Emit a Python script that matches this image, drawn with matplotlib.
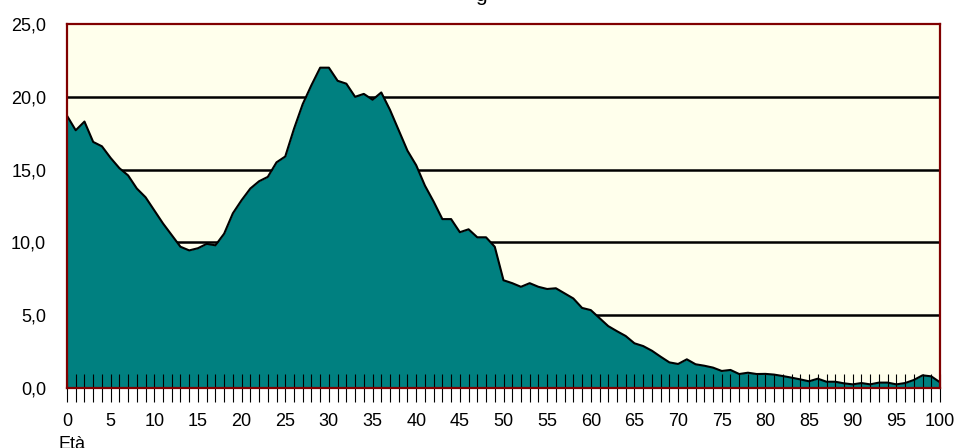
import numpy as np
import matplotlib
matplotlib.use("Agg")
import matplotlib.pyplot as plt
from matplotlib.ticker import MultipleLocator, FuncFormatter

plt.rcParams['font.family'] = ['Liberation Sans', 'DejaVu Sans']

# eta' 0..100
eta = np.arange(0, 101)
valori = [
    18.7, 17.7, 18.3, 16.9, 16.6, 15.8, 15.1, 14.6, 13.7, 13.1,   # 0-9
    12.2, 11.3, 10.5, 9.7, 9.45, 9.6, 9.9, 9.8, 10.6, 12.0,       # 10-19
    12.9, 13.7, 14.2, 14.5, 15.5, 15.9, 17.8, 19.5, 20.8, 22.0,   # 20-29
    22.0, 21.1, 20.9, 20.0, 20.2, 19.8, 20.3, 19.1, 17.7, 16.3,   # 30-39
    15.3, 13.9, 12.8, 11.6, 11.6, 10.7, 10.9, 10.35, 10.35, 9.7,  # 40-49
    7.4, 7.2, 6.95, 7.2, 6.95, 6.8, 6.85, 6.5, 6.15, 5.5,         # 50-59
    5.35, 4.8, 4.25, 3.9, 3.57, 3.07, 2.88, 2.56, 2.15, 1.76,     # 60-69
    1.65, 1.97, 1.63, 1.53, 1.4, 1.17, 1.24, 0.96, 1.05, 0.96,    # 70-79
    0.97, 0.92, 0.82, 0.71, 0.59, 0.46, 0.64, 0.43, 0.43, 0.32,   # 80-89
    0.25, 0.34, 0.25, 0.37, 0.37, 0.25, 0.34, 0.55, 0.87, 0.8,    # 90-99
    0.39,                                                          # 100
]
yticks = [0, 5, 10, 15, 20, 25]

fig = plt.figure(figsize=(9.56, 4.48), dpi=100)
ax = fig.add_axes([67 / 956, 1 - 388 / 448, 873 / 956, 364 / 448])
ax.set_facecolor('#FFFFEC')

# linee orizzontali sotto l'area
for y in yticks[1:-1]:
    ax.axhline(y, color='black', lw=1.8, zorder=0.5)

ax.fill_between(eta, valori, 0, color='#008080', lw=0, zorder=1)
ax.plot(eta, valori, color='black', lw=1.5, zorder=1.5)

ax.set_xlim(0, 100)
ax.set_ylim(0, 25)
ax.set_yticks(yticks)
ax.yaxis.set_major_formatter(FuncFormatter(lambda v, p: f"{v:.1f}".replace('.', ',')))
ax.xaxis.set_major_locator(MultipleLocator(5))
ax.xaxis.set_minor_locator(MultipleLocator(1))

ax.tick_params(axis='y', length=0, pad=15, labelsize=13)
ax.tick_params(axis='x', which='both', direction='inout', length=19.5,
               width=0.8, color='black', labelsize=13, pad=8.5)

for s in ax.spines.values():
    s.set_color('#800000')
    s.set_linewidth(1.6)

fig.text(59 / 956, -1 / 448, 'Età', fontsize=13, va='baseline', ha='left')
# titolo tagliato in alto
fig.text(481 / 956, 1 - 1 / 448, 'g', fontsize=15, va='baseline', ha='center')

fig.savefig('out.png', dpi=100)
